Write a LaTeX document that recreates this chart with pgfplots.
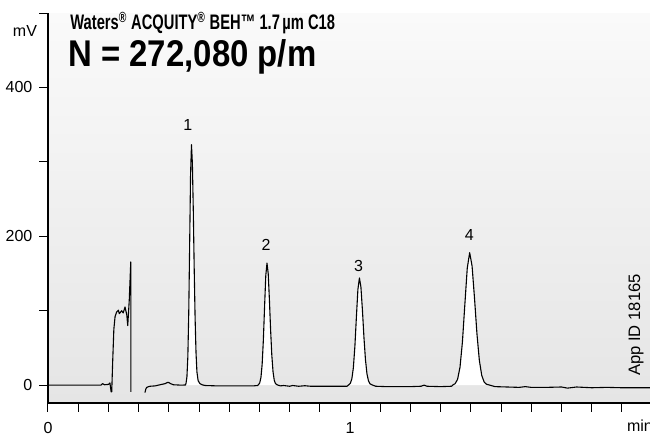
\documentclass[border=0pt]{standalone}
\usepackage{pgfplots}
\usepackage{pgfplotstable}
\usepackage{fontspec}
\pgfplotsset{compat=1.18}
\setmainfont{Liberation Sans}
\definecolor{bgtop}{RGB}{250,250,250}
\definecolor{bgbottom}{RGB}{229,229,229}

% trace before the injection gap
\pgfplotstableread{
t mv
0 0
0.100 0
0.175 0
0.181 2
0.187 0.5
0.200 1
0.205 3
0.209 -9
0.211 -9
0.214 30
0.218 75
0.222 92
0.227 98
0.233 100.7
0.236 96
0.244 100
0.249 97
0.255 105
0.261 94
0.264 80
0.269 114
0.274 165.5
0.2745 -9
}\segA

% main trace with the four peaks
\pgfplotstableread{
t mv
0.321 -10
0.324 -5
0.327 -3
0.333 -2
0.338 -1.5
0.355 -1
0.376 1
0.388 2
0.395 3.6
0.400 3.5
0.406 2
0.415 0.5
0.440 0
0.455 0.2
0.457 2.6
0.460 11.3
0.463 38
0.466 97
0.469 189
0.472 283
0.475 323
0.478 298
0.481 235
0.484 157
0.487 90
0.490 44
0.493 18
0.497 6
0.503 2
0.510 0.5
0.520 -0.5
0.560 -1
0.600 -1
0.640 -1
0.680 -1
0.694 -0.5
0.697 0.7
0.701 3.1
0.705 10.3
0.709 28
0.713 60.6
0.717 105
0.721 147
0.725 164
0.729 150
0.733 115
0.737 74
0.741 40
0.745 18
0.749 6.8
0.753 2.1
0.759 0.3
0.770 -1
0.780 -0.5
0.800 -1.5
0.810 -0.5
0.830 -1.5
0.850 -0.8
0.870 -1.5
0.900 -1.5
0.950 -1.5
0.990 -1.5
0.996 0.6
1.001 2.4
1.006 8.5
1.011 23.5
1.016 52
1.021 91.5
1.026 128.6
1.031 144
1.036 131.6
1.041 100.6
1.046 64.2
1.051 34.2
1.056 15.2
1.061 5.7
1.066 1.8
1.073 0.3
1.085 -1.5
1.120 -2
1.160 -2
1.200 -2
1.235 -1.5
1.245 0
1.255 -1.5
1.300 -2
1.336 -1.5
1.341 0.5
1.348 2
1.356 7.8
1.364 24
1.372 57.8
1.380 108
1.388 157
1.396 178
1.404 160
1.412 117
1.420 69.5
1.428 33.4
1.436 13
1.444 4.1
1.452 1.1
1.461 0.2
1.480 -2
1.520 -2.5
1.560 -3
1.580 -2
1.600 -3
1.650 -3
1.700 -2.5
1.720 -4
1.750 -2.5
1.800 -3.5
1.850 -3
1.900 -3.5
1.993 -3.5
}\segB

\begin{document}
\begin{tikzpicture}
\begin{axis}[
  at={(0,0)}, anchor=south west,
  width=301pt, height=195pt, scale only axis,
  xmin=0, xmax=1.993, ymin=-24, ymax=500,
  axis lines*=left,
  axis line style={line width=0.65pt},
  xtick={0,1},
  minor xtick={0.1,0.2,0.3,0.4,0.5,0.6,0.7,0.8,0.9,1.1,1.2,1.3,1.4,1.5,1.6,1.7,1.8,1.9},
  ytick={0,200,400},
  minor ytick={100,300,500},
  tick align=outside,
  major tick length=4.3pt, minor tick length=4.3pt,
  every tick/.style={black, line width=0.5pt},
  /pgf/number format/assume math mode=true,
  tick label style={font=\fontsize{8}{9}\selectfont},
  xticklabel style={yshift=-2pt},
  axis background/.style={top color=bgtop, bottom color=bgbottom},
]
  % white areas under the peaks
  \addplot[fill=white, draw=none, restrict x to domain=0.455:0.512] table[x=t, y=mv] {\segB} \closedcycle;
  \addplot[fill=white, draw=none, restrict x to domain=0.694:0.760] table[x=t, y=mv] {\segB} \closedcycle;
  \addplot[fill=white, draw=none, restrict x to domain=0.994:1.075] table[x=t, y=mv] {\segB} \closedcycle;
  \addplot[fill=white, draw=none, restrict x to domain=1.339:1.463] table[x=t, y=mv] {\segB} \closedcycle;

  \addplot[black, line width=0.55pt, line join=round] table[x=t, y=mv] {\segA};
  \addplot[black, line width=0.55pt, line join=round] table[x=t, y=mv] {\segB};

  \node[font=\fontsize{8}{9}\selectfont] at (axis cs:0.463,349) {1};
  \node[font=\fontsize{8}{9}\selectfont] at (axis cs:0.722,188) {2};
  \node[font=\fontsize{8}{9}\selectfont] at (axis cs:1.028,160) {3};
  \node[font=\fontsize{8}{9}\selectfont] at (axis cs:1.395,202) {4};
\end{axis}

\node[font=\fontsize{8}{9}\selectfont] at (-11.5pt,186pt) {mV};
\node[font=\fontsize{8}{9}\selectfont] at (296pt,-11.5pt) {min};
\node[font=\fontsize{8.3}{9}\selectfont, rotate=90] at (294pt,39pt) {App ID 18165};
\node[anchor=base west, inner sep=0pt] at (11pt,186.5pt)
  {\scalebox{0.7}[1]{\fontsize{10.5}{12}\selectfont\bfseries Waters\textsuperscript{®} ACQUITY\textsuperscript{®} BEH™ 1.7\,µm C18}};
\node[anchor=base west, inner sep=0pt] at (10pt,168.2pt)
  {\scalebox{0.885}[1]{\fontsize{18.6}{20}\selectfont\bfseries N = 272,080 p/m}};

\pgfresetboundingbox
\path[use as bounding box] (-24pt,-16pt) rectangle (301pt,201.5pt);
\end{tikzpicture}
\end{document}
